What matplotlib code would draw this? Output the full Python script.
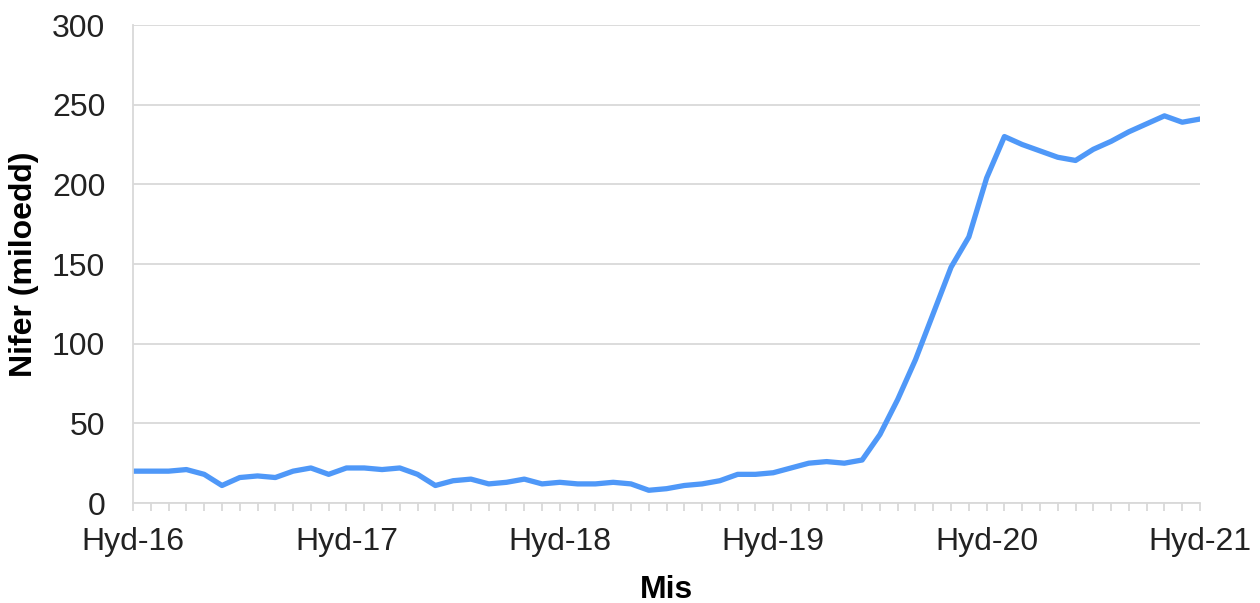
import matplotlib.pyplot as plt

plt.rcParams['font.family'] = ['Liberation Sans', 'DejaVu Sans']

# monthly values, Jan 2016 .. Jan 2021
values = [20, 20, 20, 21, 18, 11, 16, 17, 16, 20, 22, 18,
          22, 22, 21, 22, 18, 11, 14, 15, 12, 13, 15, 12,
          13, 12, 12, 13, 12, 8, 9, 11, 12, 14, 18, 18,
          19, 22, 25, 26, 25, 27, 43, 65, 90, 119, 148, 167,
          204, 230, 225, 221, 217, 215, 222, 227, 233, 238, 243, 239,
          241]
months = list(range(len(values)))
tick_pos = [0, 12, 24, 36, 48, 60]
tick_labels = ['Hyd-16', 'Hyd-17', 'Hyd-18', 'Hyd-19', 'Hyd-20', 'Hyd-21']

fig = plt.figure(figsize=(12.6, 6.03), dpi=100)
ax = fig.add_axes([0.1056, 0.1658, 0.8468, 0.7927])

ax.plot(months, values, color='#4f98f8', linewidth=3.8, solid_joinstyle='round')

ax.set_xlim(0, 60)
ax.set_ylim(0, 300)
ax.set_yticks(range(0, 301, 50))
ax.set_xticks(tick_pos)
ax.set_xticklabels(tick_labels)
ax.set_xticks(months, minor=True)

ax.grid(axis='y', color='#d9d9d9', linewidth=1.3)
ax.set_axisbelow(True)
for s in ['top', 'right']:
    ax.spines[s].set_visible(False)
for s in ['left', 'bottom']:
    ax.spines[s].set_color('#d9d9d9')
    ax.spines[s].set_linewidth(1.3)

ax.tick_params(axis='y', length=0, pad=20, labelsize=23, labelcolor='#222222')
ax.tick_params(axis='x', which='both', length=6, width=1.3, color='#d9d9d9',
               direction='out', pad=11, labelsize=23, labelcolor='#222222')

ax.set_xlabel('Mis', fontsize=23, fontweight='bold', labelpad=13)
ax.set_ylabel('Nifer (miloedd)', fontsize=23, fontweight='bold', labelpad=9)

fig.savefig('out.png', dpi=100)
